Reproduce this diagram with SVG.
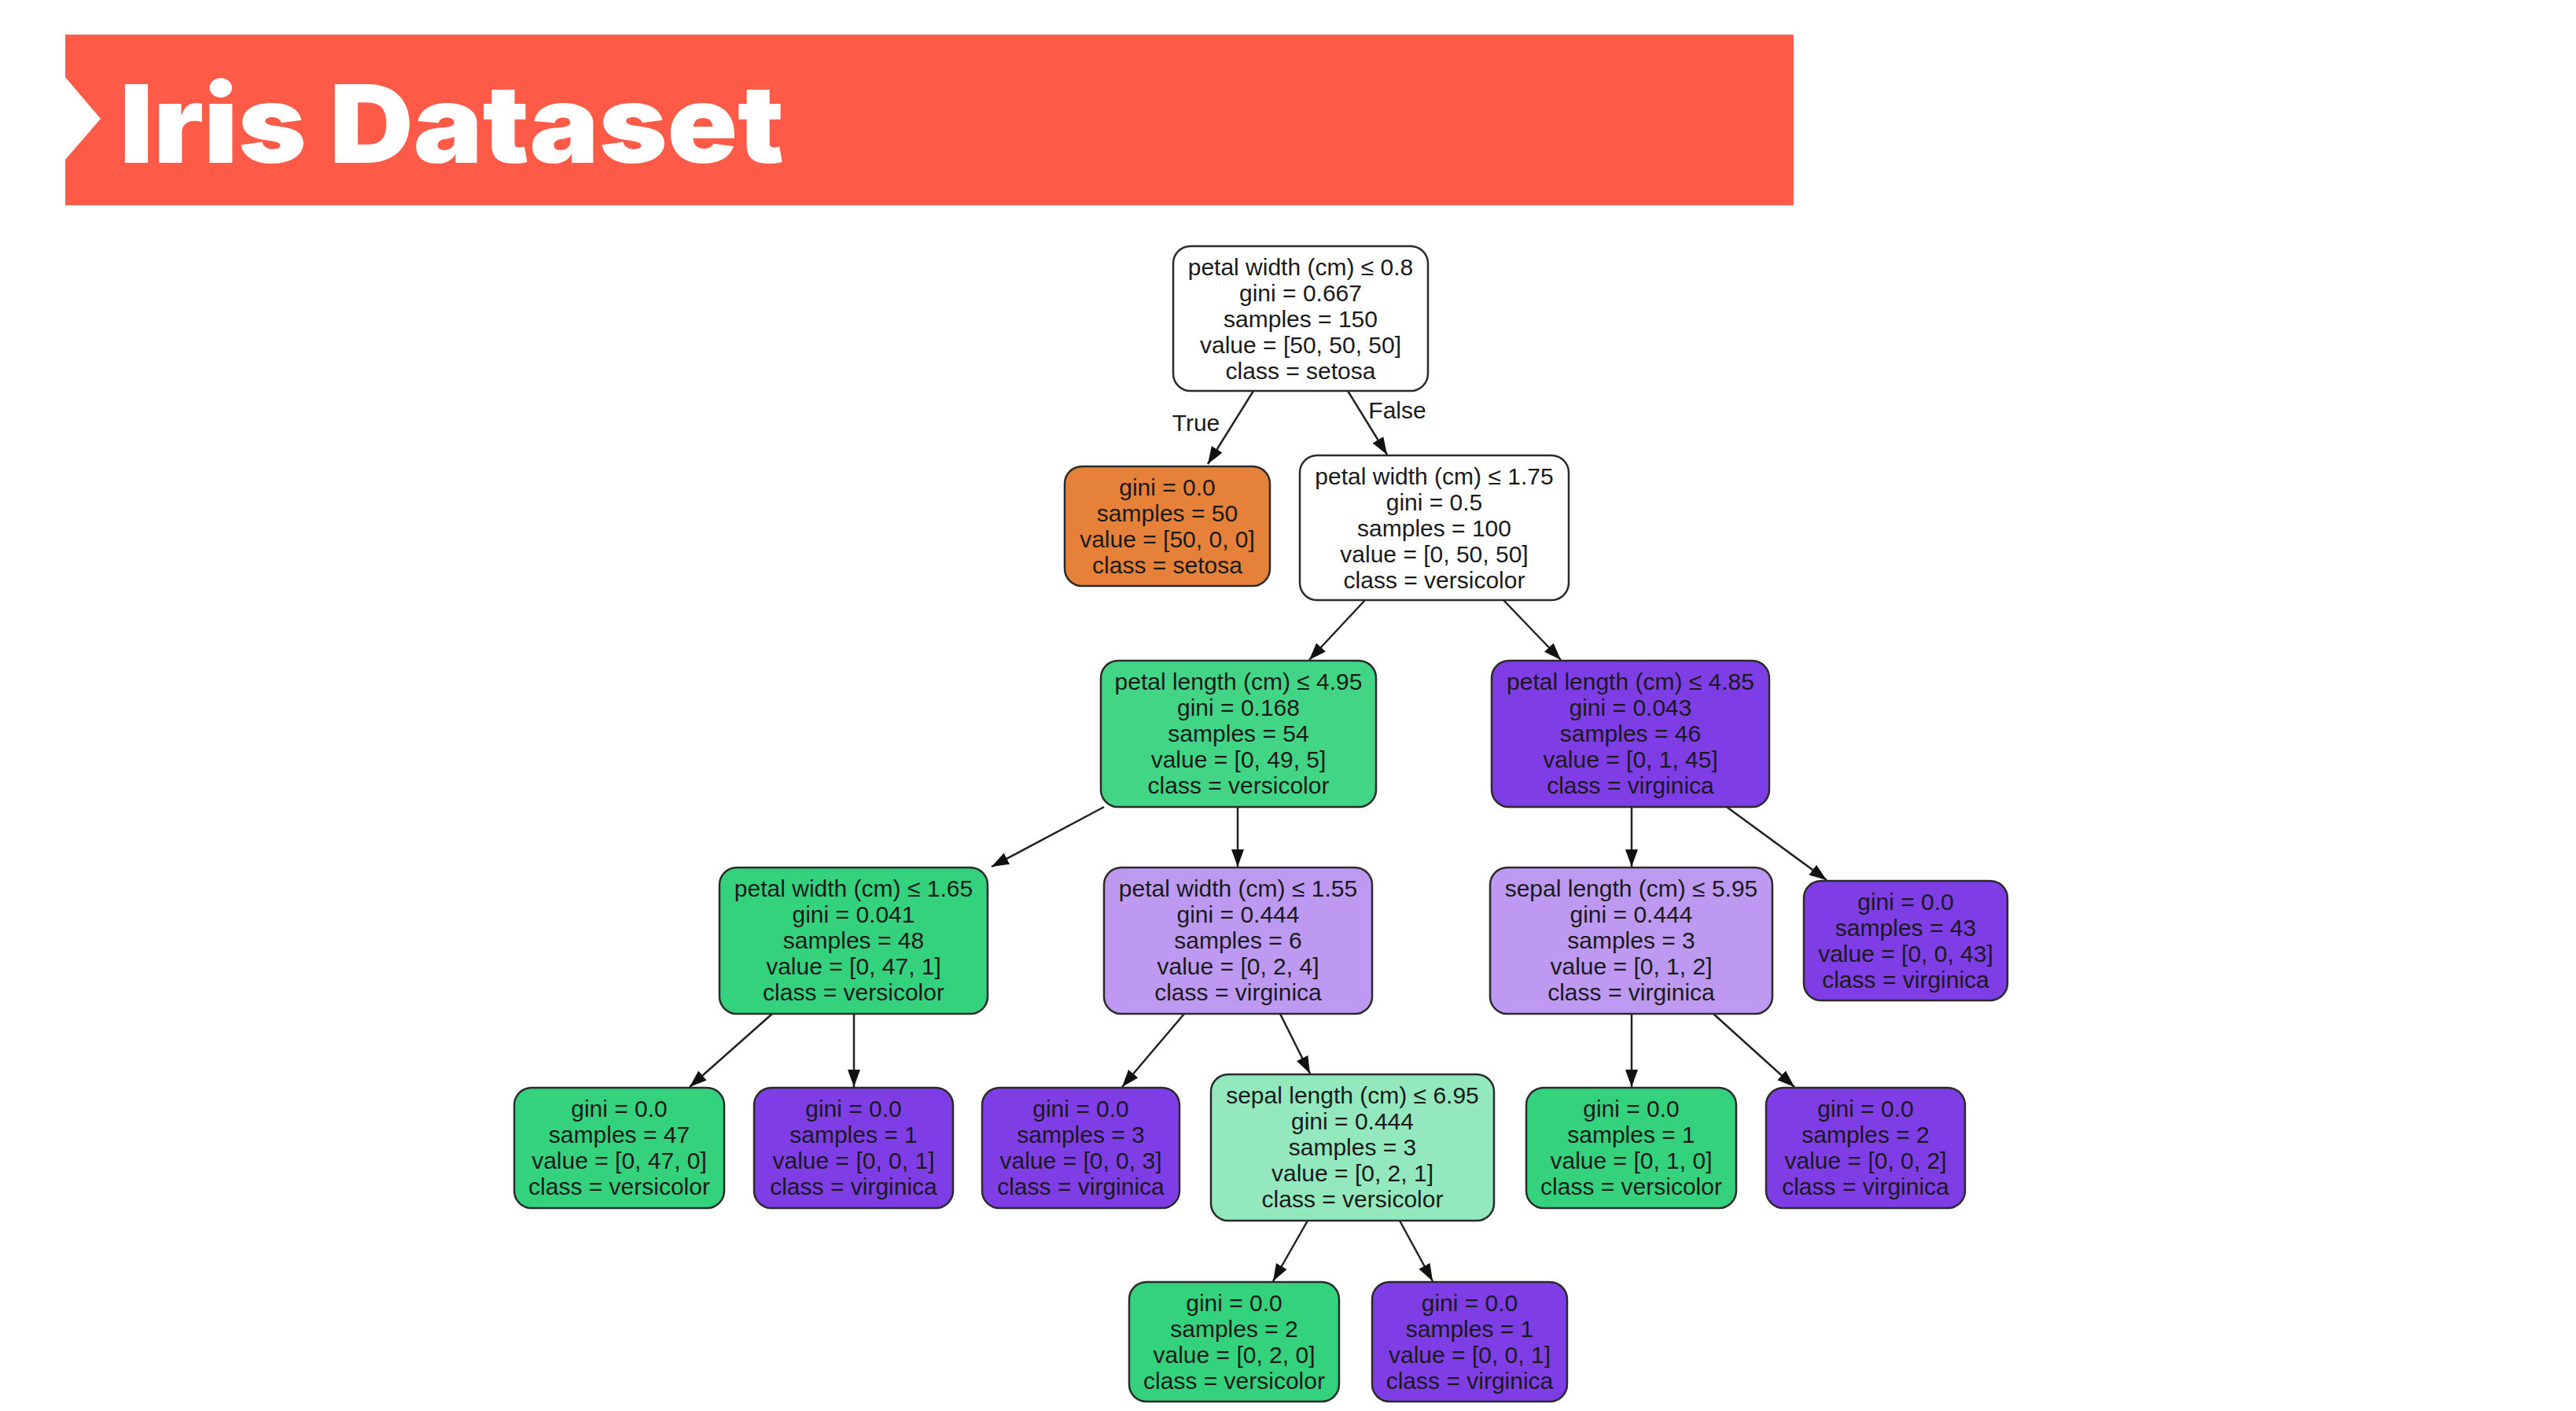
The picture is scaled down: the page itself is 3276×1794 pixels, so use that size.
<svg xmlns="http://www.w3.org/2000/svg" width="3276" height="1794" viewBox="0 0 3276 1794">
<defs>
<style>
.n rect{stroke:#2b2b2b;stroke-width:2.5}
.n text{font-family:"Liberation Sans",Arial,sans-serif;font-size:30px;fill:#1a1a1a;text-anchor:middle}
.e line{stroke:#222;stroke-width:2.5;marker-end:url(#ah)}
.lbl{font-family:"Liberation Sans",Arial,sans-serif;font-size:30px;fill:#1a1a1a;text-anchor:middle}
.w{fill:#ffffff}.o{fill:#e6813a}.g{fill:#35d27e}.g2{fill:#42d586}.p{fill:#7f3de6}.p2{fill:#bd99f1}.lg{fill:#93e8bd}
</style>
<marker id="ah" markerUnits="userSpaceOnUse" markerWidth="24" markerHeight="18" refX="22" refY="8" orient="auto"><path d="M0,0 L22,8 L0,16 z" fill="#111"/></marker>
</defs>
<rect width="3276" height="1794" fill="#ffffff"/>
<g id="header">
<polygon points="83,44 2281,44 2281,261 83,261 83,203 128,151 83,98" fill="#fe5a48"/>
<text x="152" y="207" font-family="Inter,'Open Sans','Liberation Sans',sans-serif" font-weight="900" font-size="138" fill="#ffffff" textLength="845" lengthAdjust="spacingAndGlyphs">Iris Dataset</text>
</g>
<g id="connectors" class="e">
<line x1="1594" y1="497" x2="1536" y2="590"/>
<line x1="1714" y1="497" x2="1764" y2="578"/>
<line x1="1736" y1="763" x2="1665" y2="839"/>
<line x1="1912" y1="763" x2="1985" y2="839"/>
<line x1="1404" y1="1026" x2="1261" y2="1102"/>
<line x1="1574" y1="1026" x2="1574" y2="1102"/>
<line x1="2075" y1="1026" x2="2075" y2="1102"/>
<line x1="2196" y1="1026" x2="2323" y2="1119"/>
<line x1="982" y1="1289" x2="877" y2="1382"/>
<line x1="1086" y1="1289" x2="1086" y2="1382"/>
<line x1="1506" y1="1289" x2="1427" y2="1382"/>
<line x1="1628" y1="1289" x2="1666" y2="1365"/>
<line x1="2075" y1="1289" x2="2075" y2="1382"/>
<line x1="2179" y1="1289" x2="2282" y2="1382"/>
<line x1="1663" y1="1552" x2="1619" y2="1629"/>
<line x1="1780" y1="1552" x2="1822" y2="1629"/>
<text class="lbl" x="1521" y="548">True</text>
<text class="lbl" x="1777" y="532">False</text>
</g>
<g id="n0" class="n"><rect class="w" x="1492" y="313" width="324" height="184" rx="22"/>
<text x="1654" y="350">petal width (cm) ≤ 0.8</text><text x="1654" y="383">gini = 0.667</text><text x="1654" y="416">samples = 150</text><text x="1654" y="449">value = [50, 50, 50]</text><text x="1654" y="482">class = setosa</text></g>
<g id="n1" class="n"><rect class="o" x="1354" y="593" width="261" height="152" rx="22"/>
<text x="1484.5" y="630">gini = 0.0</text><text x="1484.5" y="663">samples = 50</text><text x="1484.5" y="696">value = [50, 0, 0]</text><text x="1484.5" y="729">class = setosa</text></g>
<g id="n2" class="n"><rect class="w" x="1653" y="579" width="342" height="184" rx="22"/>
<text x="1824" y="616">petal width (cm) ≤ 1.75</text><text x="1824" y="649">gini = 0.5</text><text x="1824" y="682">samples = 100</text><text x="1824" y="715">value = [0, 50, 50]</text><text x="1824" y="748">class = versicolor</text></g>
<g id="n3" class="n"><rect class="g2" x="1400" y="840" width="350" height="186" rx="22"/>
<text x="1575" y="877">petal length (cm) ≤ 4.95</text><text x="1575" y="910">gini = 0.168</text><text x="1575" y="943">samples = 54</text><text x="1575" y="976">value = [0, 49, 5]</text><text x="1575" y="1009">class = versicolor</text></g>
<g id="n4" class="n"><rect class="p" x="1897" y="840" width="353" height="186" rx="22"/>
<text x="2073.5" y="877">petal length (cm) ≤ 4.85</text><text x="2073.5" y="910">gini = 0.043</text><text x="2073.5" y="943">samples = 46</text><text x="2073.5" y="976">value = [0, 1, 45]</text><text x="2073.5" y="1009">class = virginica</text></g>
<g id="n5" class="n"><rect class="g" x="915" y="1103" width="341" height="186" rx="22"/>
<text x="1085.5" y="1140">petal width (cm) ≤ 1.65</text><text x="1085.5" y="1173">gini = 0.041</text><text x="1085.5" y="1206">samples = 48</text><text x="1085.5" y="1239">value = [0, 47, 1]</text><text x="1085.5" y="1272">class = versicolor</text></g>
<g id="n6" class="n"><rect class="p2" x="1404" y="1103" width="341" height="186" rx="22"/>
<text x="1574.5" y="1140">petal width (cm) ≤ 1.55</text><text x="1574.5" y="1173">gini = 0.444</text><text x="1574.5" y="1206">samples = 6</text><text x="1574.5" y="1239">value = [0, 2, 4]</text><text x="1574.5" y="1272">class = virginica</text></g>
<g id="n7" class="n"><rect class="p2" x="1895" y="1103" width="359" height="186" rx="22"/>
<text x="2074.5" y="1140">sepal length (cm) ≤ 5.95</text><text x="2074.5" y="1173">gini = 0.444</text><text x="2074.5" y="1206">samples = 3</text><text x="2074.5" y="1239">value = [0, 1, 2]</text><text x="2074.5" y="1272">class = virginica</text></g>
<g id="n8" class="n"><rect class="p" x="2294" y="1120" width="259" height="152" rx="22"/>
<text x="2423.5" y="1157">gini = 0.0</text><text x="2423.5" y="1190">samples = 43</text><text x="2423.5" y="1223">value = [0, 0, 43]</text><text x="2423.5" y="1256">class = virginica</text></g>
<g id="n9" class="n"><rect class="g" x="654" y="1383" width="267" height="153" rx="22"/>
<text x="787.5" y="1420">gini = 0.0</text><text x="787.5" y="1453">samples = 47</text><text x="787.5" y="1486">value = [0, 47, 0]</text><text x="787.5" y="1519">class = versicolor</text></g>
<g id="n10" class="n"><rect class="p" x="959" y="1383" width="253" height="153" rx="22"/>
<text x="1085.5" y="1420">gini = 0.0</text><text x="1085.5" y="1453">samples = 1</text><text x="1085.5" y="1486">value = [0, 0, 1]</text><text x="1085.5" y="1519">class = virginica</text></g>
<g id="n11" class="n"><rect class="p" x="1249" y="1383" width="251" height="153" rx="22"/>
<text x="1374.5" y="1420">gini = 0.0</text><text x="1374.5" y="1453">samples = 3</text><text x="1374.5" y="1486">value = [0, 0, 3]</text><text x="1374.5" y="1519">class = virginica</text></g>
<g id="n12" class="n"><rect class="lg" x="1540" y="1366" width="360" height="186" rx="22"/>
<text x="1720" y="1403">sepal length (cm) ≤ 6.95</text><text x="1720" y="1436">gini = 0.444</text><text x="1720" y="1469">samples = 3</text><text x="1720" y="1502">value = [0, 2, 1]</text><text x="1720" y="1535">class = versicolor</text></g>
<g id="n13" class="n"><rect class="g" x="1941" y="1383" width="267" height="153" rx="22"/>
<text x="2074.5" y="1420">gini = 0.0</text><text x="2074.5" y="1453">samples = 1</text><text x="2074.5" y="1486">value = [0, 1, 0]</text><text x="2074.5" y="1519">class = versicolor</text></g>
<g id="n14" class="n"><rect class="p" x="2246" y="1383" width="253" height="153" rx="22"/>
<text x="2372.5" y="1420">gini = 0.0</text><text x="2372.5" y="1453">samples = 2</text><text x="2372.5" y="1486">value = [0, 0, 2]</text><text x="2372.5" y="1519">class = virginica</text></g>
<g id="n15" class="n"><rect class="g" x="1436" y="1630" width="267" height="152" rx="22"/>
<text x="1569.5" y="1667">gini = 0.0</text><text x="1569.5" y="1700">samples = 2</text><text x="1569.5" y="1733">value = [0, 2, 0]</text><text x="1569.5" y="1766">class = versicolor</text></g>
<g id="n16" class="n"><rect class="p" x="1745" y="1630" width="248" height="152" rx="22"/>
<text x="1869" y="1667">gini = 0.0</text><text x="1869" y="1700">samples = 1</text><text x="1869" y="1733">value = [0, 0, 1]</text><text x="1869" y="1766">class = virginica</text></g>
</svg>
